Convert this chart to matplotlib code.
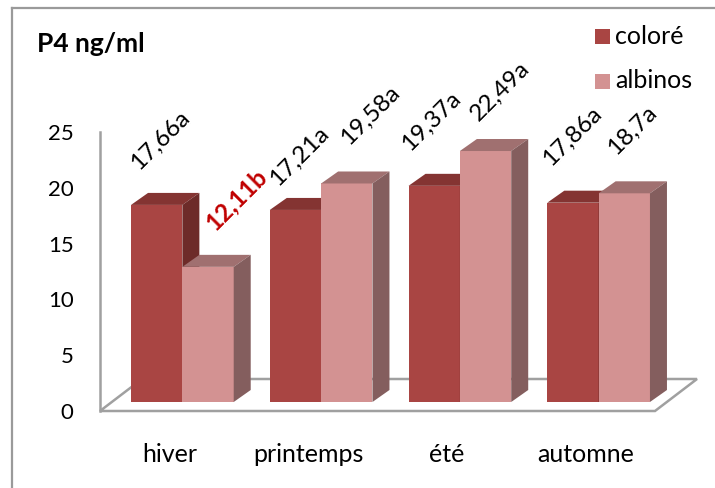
import matplotlib
matplotlib.use("Agg")
import matplotlib.pyplot as plt
from matplotlib.patches import Polygon
from matplotlib.lines import Line2D
from matplotlib.transforms import ScaledTranslation

plt.rcParams['font.family'] = ['Lato', 'DejaVu Sans']

# ---- data ----
categories = ["hiver", "printemps", "été", "automne"]
series_names = ["coloré", "albinos"]
colore = [17.66, 17.21, 19.37, 17.86]
albinos = [12.11, 19.58, 22.49, 18.7]
labels_colore = ["17,66a", "17,21a", "19,37a", "17,86a"]
labels_albinos = ["12,11b", "19,58a", "22,49a", "18,7a"]
yticks = [0, 5, 10, 15, 20, 25]

# ---- style ----
W, H, DPI = 715, 488, 100
front = {"coloré": "#A94543", "albinos": "#D39292"}
topc = {"coloré": "#843432", "albinos": "#A07070"}
sidec = {"coloré": "#6D2B29", "albinos": "#845E5E"}
grid_gray = "#A0A0A0"
# label placement tweaks in px: (dx from bar centre, gap above bar top)
label_pos_colore = [(4, 19), (4, 8), (-3, 19), (-1, 21)]
label_pos_albinos = [(28, 21), (23, 23), (15, 14), (8, 23)]

fig = plt.figure(figsize=(W / DPI, H / DPI), dpi=DPI)
ax_l, ax_r, ax_t, ax_b = 100, 655, 132, 411  # pixel frame of front plane
ax = fig.add_axes([ax_l / W, 1 - ax_b / H, (ax_r - ax_l) / W, (ax_b - ax_t) / H])
ax.set_xlim(-0.5, len(categories) - 0.5)
ax.set_ylim(0, 25)

px_x = (ax_r - ax_l) / len(categories)   # px per x unit
px_y = (ax_b - ax_t) / 25.0              # px per y unit
def dxu(p): return p / px_x
def dyu(p): return p / px_y

# floor
fdx, fdy = dxu(42), dyu(32)
x0, x1 = -0.5, len(categories) - 0.5
floor = Polygon([(x0, 0), (x1, 0), (x1 + fdx, fdy), (x0 + fdx, fdy)], closed=True,
                facecolor="white", edgecolor=grid_gray, lw=1.8, clip_on=False, zorder=1,
                joinstyle="miter")
ax.add_patch(floor)

# bars
bw = 0.37
bdx, bdy = dxu(17), dyu(12)
shift = ax.transData + ScaledTranslation(13 / DPI, 9 / DPI, fig.dpi_scale_trans)
z = 3
for i, cat in enumerate(categories):
    for j, (name, vals, labs, lpos) in enumerate([("coloré", colore, labels_colore, label_pos_colore),
                                                   ("albinos", albinos, labels_albinos, label_pos_albinos)]):
        v = vals[i]
        left = i - bw + j * bw
        bars = ax.bar([left], [v], width=bw, align="edge", color=front[name],
                      edgecolor="none", zorder=z, clip_on=False)
        for p in bars:
            p.set_transform(shift)
        top = Polygon([(left, v), (left + bw, v), (left + bw + bdx, v + bdy), (left + bdx, v + bdy)],
                      closed=True, facecolor=topc[name], edgecolor="none",
                      transform=shift, zorder=z + 0.1, clip_on=False)
        side = Polygon([(left + bw, 0), (left + bw + bdx, bdy), (left + bw + bdx, v + bdy), (left + bw, v)],
                       closed=True, facecolor=sidec[name], edgecolor="none",
                       transform=shift, zorder=z + 0.1, clip_on=False)
        ax.add_patch(top)
        ax.add_patch(side)
        z += 1
        bold = (name == "albinos" and i == 0)
        ldx, lgap = lpos[i]
        ax.annotate(labs[i], xy=(left + bw / 2, v + bdy), xycoords=shift,
                    xytext=(ldx * 72 / DPI, lgap * 72 / DPI), textcoords="offset points",
                    rotation=45, ha="center", va="bottom", fontsize=17.5,
                    color="#C00000" if bold else "black",
                    fontweight="bold" if bold else "normal", zorder=50,
                    annotation_clip=False)

# axes styling
for s in ["top", "right", "bottom"]:
    ax.spines[s].set_visible(False)
ax.spines["left"].set_color(grid_gray)
ax.spines["left"].set_linewidth(1.8)
ax.spines["left"].set_zorder(2)
ax.set_yticks(yticks)
ax.set_yticklabels([str(t) for t in yticks])
ax.set_xticks(range(len(categories)))
ax.set_xticklabels(categories)
ax.tick_params(axis="y", length=0, pad=19, labelsize=16)
ax.tick_params(axis="x", length=0, pad=23, labelsize=18)
ax.patch.set_visible(False)

# title & legend
fig.text(37 / W, 1 - 44 / H, "P4 ng/ml", fontsize=19, fontweight="bold", va="center", ha="left")
for k, name in enumerate(series_names):
    yc = 37 + k * 45
    fig.patches.append(plt.Rectangle((595 / W, 1 - (yc + 7) / H), 15 / W, 15 / H,
                                     transform=fig.transFigure, facecolor=front[name],
                                     edgecolor="none"))
    fig.text(615 / W, 1 - (yc - 1) / H, name, fontsize=18, va="center", ha="left")

# outer border (left and top visible)
fig.add_artist(Line2D([12 / W, 12 / W], [0, 1 - 8 / H], transform=fig.transFigure,
                      color="#9A9A9A", lw=1.6))
fig.add_artist(Line2D([12 / W, 1], [1 - 8 / H, 1 - 8 / H], transform=fig.transFigure,
                      color="#9A9A9A", lw=1.6))

fig.savefig("out.png", dpi=DPI)
